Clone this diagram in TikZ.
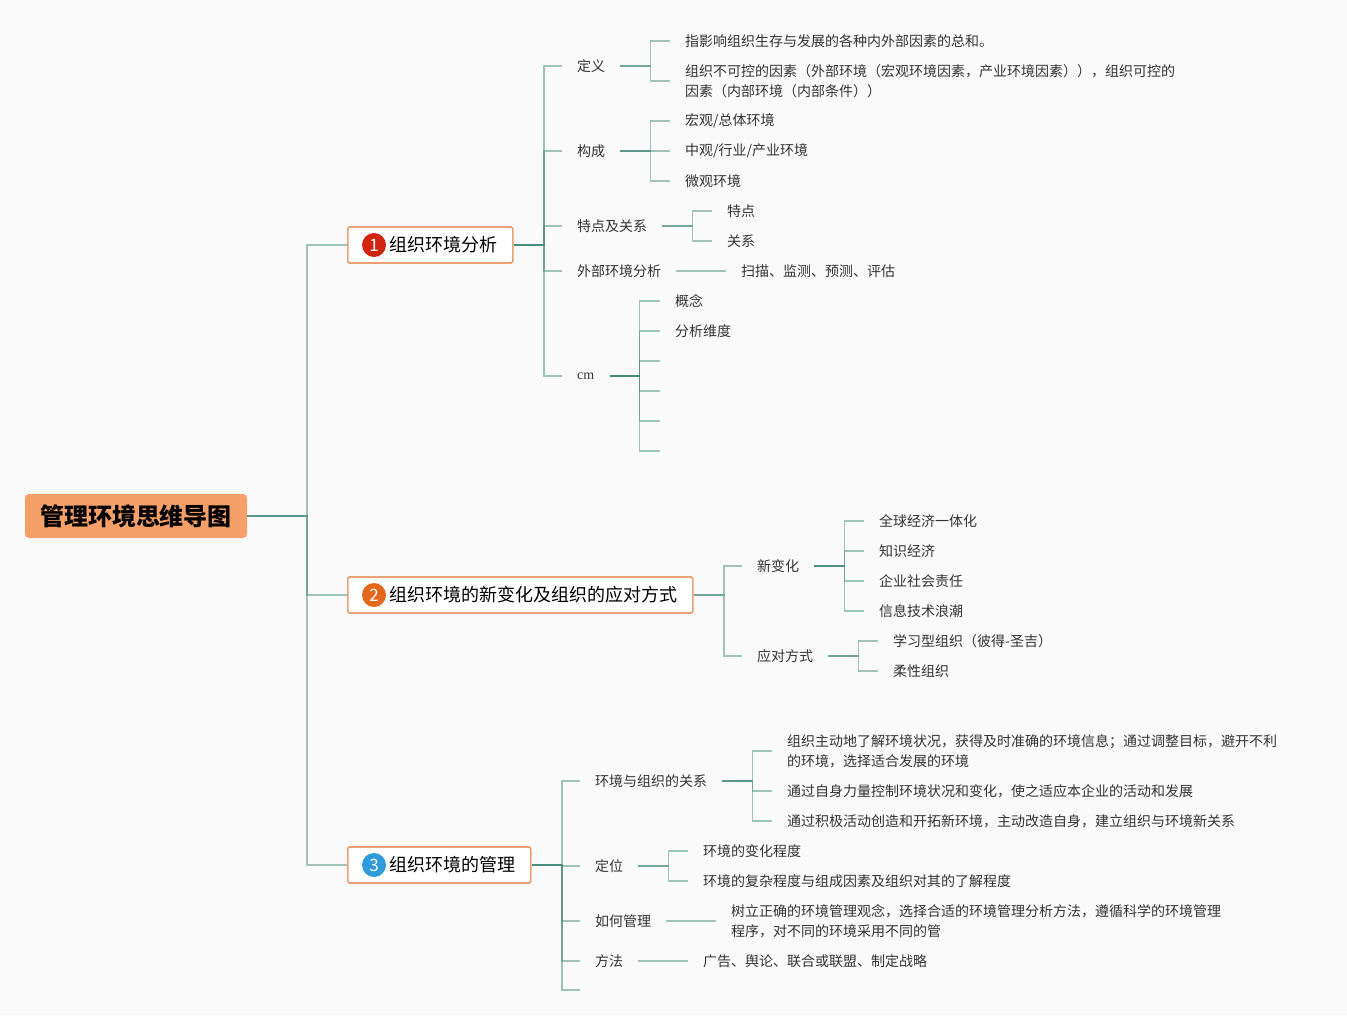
\documentclass[tikz,border=0pt]{standalone}
\usepackage{fontspec}
\setmainfont{Noto Sans CJK SC}
\newfontfamily\latinserif{Liberation Serif}
\usepackage{xcolor}
\usetikzlibrary{positioning,calc}

\definecolor{bgpaper}{HTML}{FAFAFA}
\definecolor{rootfill}{HTML}{F4A068}
\definecolor{boxline}{HTML}{EBA172}
\definecolor{linkteal}{RGB}{70,140,122}
\definecolor{txtgray}{HTML}{333333}
\definecolor{badgeone}{HTML}{D0260F}
\definecolor{badgetwo}{HTML}{E2691B}
\definecolor{badgethree}{HTML}{2F9BDA}

\tikzset{
  root/.style={fill=rootfill, rounded corners=4pt, minimum height=44pt, inner xsep=15pt,
    font=\fontsize{24}{28}\selectfont\bfseries},
  topic/.style={draw=boxline, line width=1.6pt, fill=white, rounded corners=1.5pt,
    minimum height=36pt, inner xsep=15pt, inner ysep=0pt, anchor=west,
    font=\fontsize{18}{22}\selectfont},
  badge/.style={circle, fill=#1, text=white, minimum size=24pt, inner sep=0pt,
    font=\fontsize{17}{17}\selectfont},
  leaf/.style={anchor=west, inner xsep=15pt, inner ysep=2pt, text=txtgray, align=left,
    font=\fontsize{14}{20}\selectfont},
  link/.style={draw=linkteal, line width=1.8pt, opacity=0.5},
}

\begin{document}
\begin{tikzpicture}[x=1pt, y=-1pt]
    \fill[bgpaper] (0,0) rectangle (1347,1015);
    \useasboundingbox (0,0) rectangle (1347,1015);

    % root and main topics
    \node[root] (root) at (136,516) {管理环境思维导图};
    \node[topic] (ta) at (347,245) {\hspace{27pt}组织环境分析};
    \node[badge=badgeone] (ta-b) at ([xshift=27pt]ta.west) {1};
    \node[topic] (tb) at (347,595) {\hspace{27pt}组织环境的新变化及组织的应对方式};
    \node[badge=badgetwo] (tb-b) at ([xshift=27pt]tb.west) {2};
    \node[topic] (tc) at (347,865) {\hspace{27pt}组织环境的管理};
    \node[badge=badgethree] (tc-b) at ([xshift=27pt]tc.west) {3};
    \foreach \t in {ta,tb,tc}
        \draw[link] (root.east) -- ++(60,0) |- (\t.west);

    % 1 组织环境分析
    \node[leaf] (dy) at (562,66) {定义};
    \node[leaf] (gc) at (562,151) {构成};
    \node[leaf] (td) at (562,226) {特点及关系};
    \node[leaf] (wb) at (562,271) {外部环境分析};
    \node[leaf] (cm) at (562,376) {\latinserif cm};
    \foreach \c in {dy,gc,td,wb,cm}
        \draw[link] (ta.east) -- ++(30,0) |- (\c.west);

    \node[leaf] (dy-a) at (670,41) {指影响组织生存与发展的各种内外部因素的总和。};
    \node[leaf] (dy-b) at (670,81) {组织不可控的因素（外部环境（宏观环境因素，产业环境因素）），组织可控的\\因素（内部环境（内部条件））};
    \node[leaf] (gc-a) at (670,121) {宏观/总体环境};
    \node[leaf] (gc-b) at (670,151) {中观/行业/产业环境};
    \node[leaf] (gc-c) at (670,181) {微观环境};
    \node[leaf] (td-a) at (712,211) {特点};
    \node[leaf] (td-b) at (712,241) {关系};
    \node[leaf] (wb-a) at (726,271) {扫描、监测、预测、评估};
    \node[leaf] (cm-a) at (660,301) {概念};
    \node[leaf] (cm-b) at (660,331) {分析维度};
    \foreach \yy [count=\i] in {361,391,421,451}
        \coordinate (cm-e\i) at (660,\yy);

    \foreach \p/\c in {dy/dy-a,dy/dy-b,gc/gc-a,gc/gc-b,gc/gc-c,td/td-a,td/td-b,cm/cm-a,cm/cm-b}
        \draw[link] (\p.east) -- ++(30,0) |- (\c.west);
    \foreach \i in {1,...,4}
        \draw[link] (cm.east) -- ++(30,0) |- (cm-e\i);
    \draw[link] (wb.east) -- (wb-a.west);

    % 2 新变化及应对方式
    \node[leaf] (xb) at (742,566) {新变化};
    \node[leaf] (yd) at (742,656) {应对方式};
    \foreach \c in {xb,yd}
        \draw[link] (tb.east) -- ++(30,0) |- (\c.west);

    \node[leaf] (xb-a) at (864,521) {全球经济一体化};
    \node[leaf] (xb-b) at (864,551) {知识经济};
    \node[leaf] (xb-c) at (864,581) {企业社会责任};
    \node[leaf] (xb-d) at (864,611) {信息技术浪潮};
    \node[leaf] (yd-a) at (878,641) {学习型组织（彼得-圣吉）};
    \node[leaf] (yd-b) at (878,671) {柔性组织};
    \foreach \p/\c in {xb/xb-a,xb/xb-b,xb/xb-c,xb/xb-d,yd/yd-a,yd/yd-b}
        \draw[link] (\p.east) -- ++(30,0) |- (\c.west);

    % 3 组织环境的管理
    \node[leaf] (gx) at (580,781) {环境与组织的关系};
    \node[leaf] (dw) at (580,866) {定位};
    \node[leaf] (rh) at (580,921) {如何管理};
    \node[leaf] (ff) at (580,961) {方法};
    \coordinate (tc-e) at (580,990);
    \foreach \c in {gx,dw,rh,ff}
        \draw[link] (tc.east) -- ++(30,0) |- (\c.west);
    \draw[link] (tc.east) -- ++(30,0) |- (tc-e);

    \node[leaf] (gx-a) at (772,751) {组织主动地了解环境状况，获得及时准确的环境信息；通过调整目标，避开不利\\的环境，选择适合发展的环境};
    \node[leaf] (gx-b) at (772,791) {通过自身力量控制环境状况和变化，使之适应本企业的活动和发展};
    \node[leaf] (gx-c) at (772,821) {通过积极活动创造和开拓新环境，主动改造自身，建立组织与环境新关系};
    \node[leaf] (dw-a) at (688,851) {环境的变化程度};
    \node[leaf] (dw-b) at (688,881) {环境的复杂程度与组成因素及组织对其的了解程度};
    \node[leaf] (rh-a) at (716,921) {树立正确的环境管理观念，选择合适的环境管理分析方法，遵循科学的环境管理\\程序，对不同的环境采用不同的管};
    \node[leaf] (ff-a) at (688,961) {广告、舆论、联合或联盟、制定战略};
    \foreach \p/\c in {gx/gx-a,gx/gx-b,gx/gx-c,dw/dw-a,dw/dw-b}
        \draw[link] (\p.east) -- ++(30,0) |- (\c.west);
    \draw[link] (rh.east) -- (rh-a.west);
    \draw[link] (ff.east) -- (ff-a.west);
\end{tikzpicture}
\end{document}
